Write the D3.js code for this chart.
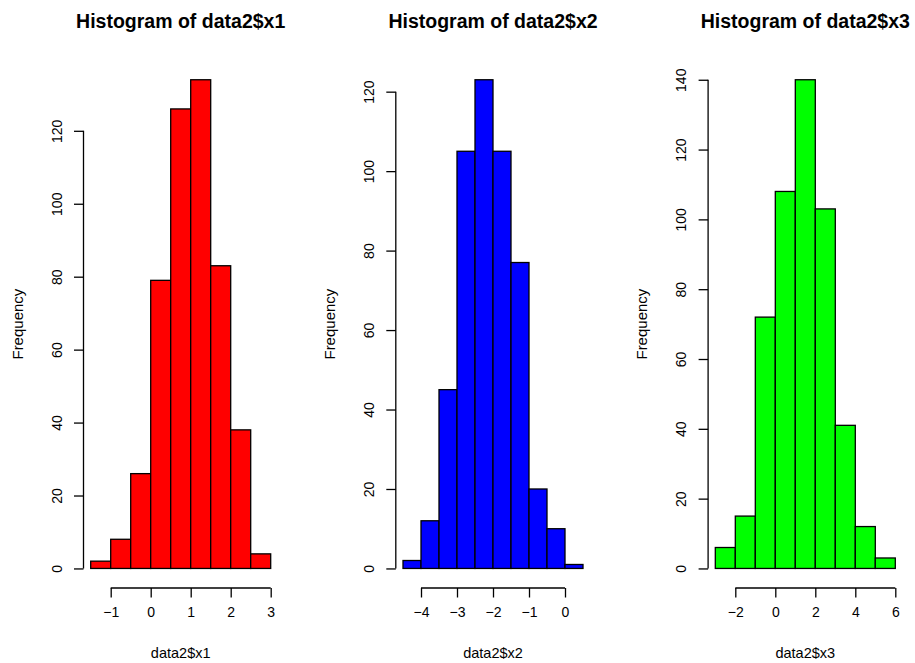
<!DOCTYPE html>
<html>
<head>
<meta charset="utf-8">
<script src="https://cdn.jsdelivr.net/npm/d3@7"></script>
<style>
  html, body { margin: 0; padding: 0; background: #fff; }
  svg text { font-family: "Liberation Sans", Arial, Helvetica, sans-serif; fill: #000; }
</style>
</head>
<body>
<svg id="chart" width="915" height="663"></svg>
<script>
// ---- data ----
const titles = ["Histogram of data2$x1", "Histogram of data2$x2", "Histogram of data2$x3"];
const xLabels = ["data2$x1", "data2$x2", "data2$x3"];
const fills = ["#FF0000", "#0000FF", "#00FF00"];

const breaks1 = [-1.5, -1, -0.5, 0, 0.5, 1, 1.5, 2, 2.5, 3];
const counts1 = [2, 8, 26, 79, 126, 134, 83, 38, 4];
const breaks2 = [-4.5, -4, -3.5, -3, -2.5, -2, -1.5, -1, -0.5, 0, 0.5];
const counts2 = [2, 12, 45, 105, 123, 105, 77, 20, 10, 1];
const breaks3 = [-3, -2, -1, 0, 1, 2, 3, 4, 5, 6];
const counts3 = [6, 15, 72, 108, 140, 103, 41, 12, 3];

const xTicks1 = [-1, 0, 1, 2, 3];
const xTicks2 = [-4, -3, -2, -1, 0];
const xTicks3 = [-2, 0, 2, 4, 6];
const yTicks1 = [0, 20, 40, 60, 80, 100, 120];
const yTicks2 = [0, 20, 40, 60, 80, 100, 120];
const yTicks3 = [0, 20, 40, 60, 80, 100, 120, 140];

const panels = [
  {breaks: breaks1, counts: counts1, xTicks: xTicks1, yTicks: yTicks1},
  {breaks: breaks2, counts: counts2, xTicks: xTicks2, yTicks: yTicks2},
  {breaks: breaks3, counts: counts3, xTicks: xTicks3, yTicks: yTicks3}
];

// ---- layout ----
const svg = d3.select("#chart");
const panelStep = 312.3, plotLeft = 83.5, plotW = 194.4, plotTop = 60.2, plotBottom = 588;
const fmt = d3.format("");
const lw = 1.3;

panels.forEach((p, i) => {
  const x0 = i * panelStep + plotLeft;
  const x1 = x0 + plotW;
  const bmin = p.breaks[0], bmax = p.breaks[p.breaks.length - 1];
  const ext = (bmax - bmin) * 0.04;
  const ymax = d3.max(p.counts);
  const yext = ymax * 0.04;

  const x = d3.scaleLinear().domain([bmin - ext, bmax + ext]).range([x0, x1]);
  const y = d3.scaleLinear().domain([-yext, ymax + yext]).range([plotBottom, plotTop]);

  const g = svg.append("g");

  // bars
  g.selectAll("rect.bar").data(p.counts).enter().append("rect")
    .attr("class", "bar")
    .attr("x", (d, j) => x(p.breaks[j]))
    .attr("width", (d, j) => x(p.breaks[j + 1]) - x(p.breaks[j]))
    .attr("y", d => y(d))
    .attr("height", d => y(0) - y(d))
    .attr("fill", fills[i])
    .attr("stroke", "#000")
    .attr("stroke-width", lw);

  // x axis
  const xa = g.append("g")
    .attr("transform", `translate(0,${plotBottom})`)
    .call(d3.axisBottom(x).tickValues(p.xTicks).tickFormat(fmt).tickSize(9.5).tickPadding(10).tickSizeOuter(0));
  xa.select(".domain").remove();
  xa.append("line")
    .attr("x1", x(p.xTicks[0])).attr("x2", x(p.xTicks[p.xTicks.length - 1]))
    .attr("stroke", "#000").attr("stroke-width", lw);
  xa.selectAll(".tick line").attr("stroke", "#000").attr("stroke-width", lw);
  xa.selectAll(".tick text").attr("font-size", 14).attr("fill", "#000")
    .attr("font-family", "Liberation Sans, Arial, sans-serif");

  // y axis
  const ya = g.append("g")
    .attr("transform", `translate(${x0},0)`)
    .call(d3.axisLeft(y).tickValues(p.yTicks).tickFormat(fmt).tickSize(9.5).tickSizeOuter(0));
  ya.select(".domain").remove();
  ya.append("line")
    .attr("y1", y(p.yTicks[0])).attr("y2", y(p.yTicks[p.yTicks.length - 1]))
    .attr("stroke", "#000").attr("stroke-width", lw);
  ya.selectAll(".tick line").attr("stroke", "#000").attr("stroke-width", lw);
  ya.selectAll(".tick text").remove();
  ya.selectAll(".tick").append("text")
    .attr("transform", "translate(-22,0) rotate(-90)")
    .attr("text-anchor", "middle")
    .attr("font-size", 14)
    .attr("font-family", "Liberation Sans, Arial, sans-serif")
    .attr("fill", "#000")
    .text(d => fmt(d));

  const cx = (x0 + x1) / 2;
  // title
  g.append("text")
    .attr("x", cx).attr("y", 28)
    .attr("text-anchor", "middle")
    .attr("font-size", 19.5).attr("font-weight", "bold")
    .text(titles[i]);

  // x label
  g.append("text")
    .attr("x", cx).attr("y", 658)
    .attr("text-anchor", "middle")
    .attr("font-size", 14.5)
    .text(xLabels[i]);

  // y label
  g.append("text")
    .attr("transform", `translate(${x0 - 61},${(plotTop + plotBottom) / 2}) rotate(-90)`)
    .attr("text-anchor", "middle")
    .attr("font-size", 15)
    .text("Frequency");
});
</script>
</body>
</html>
